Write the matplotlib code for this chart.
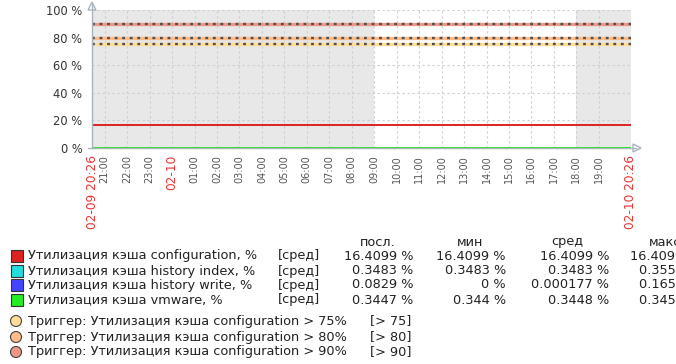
import numpy as np
import matplotlib
matplotlib.use('Agg')
import matplotlib.pyplot as plt
from matplotlib.patches import Rectangle, Circle, Polygon
from datetime import datetime, timedelta

# data
t_start = datetime(2024, 2, 9, 20, 26)
t_end = datetime(2024, 2, 10, 20, 26)
times = [t_start, t_end]

series_names = ['Утилизация кэша configuration, %', 'Утилизация кэша history index, %',
                'Утилизация кэша history write, %', 'Утилизация кэша vmware, %']
series_colors = ['#dd2222', '#22dddd', '#4444ff', '#22ee22']
series_values = [[16.4099, 16.4099], [0.3483, 0.3483], [0.0829, 0.0829], [0.3447, 0.3447]]
col_last = ['16.4099 %', '0.3483 %', '0.0829 %', '0.3447 %']
col_min = ['16.4099 %', '0.3483 %', '0 %', '0.344 %']
col_avg = ['16.4099 %', '0.3483 %', '0.000177 %', '0.3448 %']
col_max = ['16.4099 %', '0.3555 %', '0.1658 %', '0.3455 %']

trig_values = [75, 80, 90]
trig_colors = ['#ffdd99', '#ffbb88', '#ee9988']
trig_names = ['Триггер: Утилизация кэша configuration > 75%',
              'Триггер: Утилизация кэша configuration > 80%',
              'Триггер: Утилизация кэша configuration > 90%']
trig_tags = ['[> 75]', '[> 80]', '[> 90]']

work_start = datetime(2024, 2, 10, 9, 0)
work_end = datetime(2024, 2, 10, 18, 0)

W, H = 676, 364
L, R, T, B = 92, 631, 10, 148
fig = plt.figure(figsize=(W/100, H/100), dpi=100)
ax = fig.add_axes([L/W, 1-B/H, (R-L)/W, (B-T)/H])
fs = 9.3
grid_c = '#c9cfd5'
axis_c = '#a9b3bd'

ax.axvspan(t_start, work_start, color='#e8e8e8', lw=0, zorder=0)
ax.axvspan(work_end, t_end, color='#e8e8e8', lw=0, zorder=0)

hours = [t_start.replace(minute=0) + timedelta(hours=h) for h in range(1, 24)]
hours = [h for h in hours if h != datetime(2024, 2, 10, 20, 0)]
for h in hours:
    ax.axvline(h, color=grid_c, lw=0.8, ls=(0, (2, 2.5)), zorder=1)
for v in [20, 40, 60, 80, 100]:
    ax.axhline(v, color=grid_c, lw=0.8, ls=(0, (2, 2.5)), zorder=1)

for tv, tc in zip(trig_values, trig_colors):
    ax.plot(times, [tv, tv], color=tc, lw=2.4, zorder=2, solid_capstyle='butt')
    ax.plot(times, [tv, tv], color='#505050', lw=1.7, ls=(0, (1.2, 2.0)), zorder=3)

for vals, c in zip(series_values, series_colors):
    ax.plot(times, vals, color=c, lw=1.4, zorder=4)

ax.set_xlim(t_start, t_end)
ax.set_ylim(0, 100)
for s in ax.spines.values():
    s.set_visible(False)
ax.set_yticks([0, 20, 40, 60, 80, 100])
ax.set_yticklabels(['0 %', '20 %', '40 %', '60 %', '80 %', '100 %'], fontsize=8.3, color='#333333')
ax.tick_params(axis='y', length=0, pad=7)

xt = [t_start] + hours + [t_end]
xl = []
xc = []
xs = []
for t in xt:
    if t == t_start or t == t_end:
        xl.append(t.strftime('%m-%d %H:%M')); xc.append('#ee3333'); xs.append(8.7)
    elif t.hour == 0:
        xl.append(t.strftime('%m-%d')); xc.append('#ee3333'); xs.append(8.7)
    else:
        xl.append(t.strftime('%H:%M')); xc.append('#555555'); xs.append(7.0)
ax.set_xticks(xt)
ax.set_xticklabels(xl, rotation=90, va='top', ha='center')
for lab, c, s in zip(ax.get_xticklabels(), xc, xs):
    lab.set_color(c)
    lab.set_fontsize(s)
ax.tick_params(axis='x', length=0, pad=5)

# overlay in pixel coords for axes arrows and legend
ov = fig.add_axes([0, 0, 1, 1], zorder=5)
ov.set_xlim(0, W)
ov.set_ylim(H, 0)
ov.axis('off')
ov.patch.set_alpha(0)

ov.plot([L, L], [B, 4], color=axis_c, lw=1)
ov.plot([L, 636], [B, B], color=axis_c, lw=1)
ov.plot([L - 4, L], [B, B], color=axis_c, lw=1)
ov.add_patch(Polygon([[L - 4, 10], [L + 4, 10], [L, 2]], closed=True, fc='white', ec=axis_c, lw=1))
ov.add_patch(Polygon([[633, B - 4], [633, B + 4], [641, B]], closed=True, fc='white', ec=axis_c, lw=1))

txt_c = '#222222'
head_y = 242
ov.text(378, head_y, 'посл.', fontsize=fs, color=txt_c, ha='center', va='center')
ov.text(470, head_y, 'мин', fontsize=fs, color=txt_c, ha='center', va='center')
ov.text(567, head_y, 'сред', fontsize=fs, color=txt_c, ha='center', va='center')
ov.text(665, head_y, 'макс', fontsize=fs, color=txt_c, ha='center', va='center')

row_y = [256, 271, 285, 300]
for i in range(4):
    y = row_y[i]
    ov.add_patch(Rectangle((10.5, y - 6), 12, 12, fc=series_colors[i], ec='#333333', lw=0.8))
    ov.text(28, y, series_names[i], fontsize=fs, color=txt_c, va='center')
    ov.text(278, y, '[сред]', fontsize=fs, color=txt_c, va='center')
    ov.text(413, y, col_last[i], fontsize=fs, color=txt_c, va='center', ha='right')
    ov.text(506, y, col_min[i], fontsize=fs, color=txt_c, va='center', ha='right')
    ov.text(609, y, col_avg[i], fontsize=fs, color=txt_c, va='center', ha='right')
    ov.text(700, y, col_max[i], fontsize=fs, color=txt_c, va='center', ha='right')

trig_y = [321, 337, 352]
for i in range(3):
    y = trig_y[i]
    ov.add_patch(Circle((16, y), 5.5, fc=trig_colors[i], ec='#444444', lw=0.8))
    ov.text(28, y, trig_names[i], fontsize=fs, color=txt_c, va='center')
    ov.text(370, y, trig_tags[i], fontsize=fs, color=txt_c, va='center')

fig.savefig('out.png', dpi=100)
